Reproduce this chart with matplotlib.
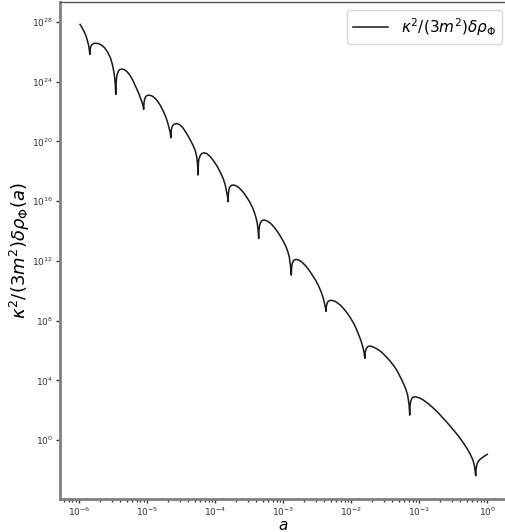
import numpy as np
from matplotlib import pyplot as plt

# log10 of the scale factor a, one row per oscillation (descent into the node, then rise)
log_a = [
    -5.985, -5.96, -5.93, -5.90, -5.88, -5.86, -5.85, -5.84,
    -5.836, -5.825, -5.81, -5.79, -5.76, -5.74,
    -5.70, -5.66, -5.62, -5.58, -5.54, -5.51, -5.49, -5.475, -5.466, -5.46,
    -5.455, -5.45, -5.44, -5.42, -5.40, -5.37,
    -5.33, -5.29, -5.25, -5.21, -5.17, -5.13, -5.10, -5.08, -5.06, -5.05,
    -5.045, -5.035, -5.02, -5.00, -4.97,
    -4.93, -4.89, -4.85, -4.81, -4.77, -4.73, -4.70, -4.68, -4.66, -4.65,
    -4.645, -4.635, -4.62, -4.60, -4.56,
    -4.52, -4.48, -4.44, -4.40, -4.36, -4.32, -4.29, -4.27, -4.258, -4.25,
    -4.246, -4.24, -4.22, -4.20, -4.16,
    -4.12, -4.08, -4.04, -4.00, -3.96, -3.92, -3.88, -3.85, -3.83, -3.815, -3.81,
    -3.805, -3.795, -3.78, -3.76, -3.73,
    -3.69, -3.65, -3.61, -3.57, -3.53, -3.49, -3.45, -3.42, -3.40, -3.38, -3.367, -3.36,
    -3.355, -3.345, -3.33, -3.31, -3.28,
    -3.24, -3.20, -3.16, -3.12, -3.08, -3.04, -3.00, -2.96, -2.93, -2.91, -2.893, -2.88,
    -2.875, -2.865, -2.85, -2.83, -2.81,
    -2.76, -2.72, -2.68, -2.64, -2.60, -2.56, -2.52, -2.48, -2.44, -2.41, -2.39, -2.375, -2.37,
    -2.365, -2.355, -2.34, -2.32, -2.29,
    -2.24, -2.20, -2.16, -2.12, -2.08, -2.04, -2.00, -1.96, -1.92, -1.89, -1.86, -1.83, -1.81, -1.80,
    -1.795, -1.785, -1.77, -1.75, -1.72,
    -1.67, -1.62, -1.57, -1.52, -1.47, -1.42, -1.37, -1.32, -1.28, -1.24, -1.20, -1.17, -1.15, -1.14,
    -1.135, -1.125, -1.11, -1.09, -1.06,
    -1.00, -0.94, -0.88, -0.82, -0.76, -0.70, -0.64, -0.58, -0.52, -0.46, -0.40, -0.35, -0.30,
    -0.25, -0.21, -0.185, -0.17,
    -0.163, -0.15, -0.13, -0.10, -0.05, 0.0,
]
# log10 of kappa^2/(3m^2) delta rho_Phi at those points
log_rho = [
    27.84, 27.65, 27.40, 27.10, 26.80, 26.45, 26.15, 25.83,
    26.20, 26.38, 26.49, 26.55, 26.58, 26.57,
    26.53, 26.42, 26.25, 25.98, 25.62, 25.15, 24.70, 24.25, 23.70, 23.15,
    23.85, 24.20, 24.50, 24.72, 24.82, 24.85,
    24.80, 24.65, 24.42, 24.10, 23.70, 23.30, 22.95, 22.70, 22.40, 22.15,
    22.60, 22.85, 23.00, 23.08, 23.10,
    23.05, 22.92, 22.72, 22.45, 22.10, 21.70, 21.30, 20.95, 20.60, 20.25,
    20.75, 20.95, 21.08, 21.16, 21.20,
    21.12, 20.95, 20.68, 20.38, 20.05, 19.70, 19.35, 18.95, 18.45, 17.75,
    18.50, 18.80, 19.05, 19.18, 19.24,
    19.18, 19.02, 18.80, 18.55, 18.25, 17.90, 17.50, 17.05, 16.60, 16.25, 15.96,
    16.50, 16.80, 16.98, 17.06, 17.08,
    17.03, 16.90, 16.72, 16.50, 16.23, 15.93, 15.57, 15.20, 14.90, 14.50, 14.00, 13.50,
    14.10, 14.40, 14.60, 14.70, 14.74,
    14.68, 14.57, 14.40, 14.18, 13.93, 13.65, 13.33, 12.97, 12.60, 12.25, 11.70, 11.05,
    11.60, 11.85, 12.00, 12.08, 12.10,
    12.03, 11.90, 11.72, 11.50, 11.25, 10.97, 10.68, 10.33, 9.90, 9.50, 9.10, 8.80, 8.62,
    8.95, 9.15, 9.28, 9.34, 9.36,
    9.30, 9.18, 9.04, 8.85, 8.63, 8.38, 8.10, 7.78, 7.40, 7.05, 6.70, 6.25, 5.85, 5.47,
    5.85, 6.05, 6.18, 6.27, 6.30,
    6.22, 6.10, 5.95, 5.74, 5.50, 5.24, 4.95, 4.60, 4.24, 3.87, 3.45, 3.00, 2.40, 1.67,
    2.30, 2.60, 2.78, 2.87, 2.90,
    2.83, 2.68, 2.48, 2.25, 2.00, 1.72, 1.42, 1.12, 0.80, 0.47, 0.12, -0.20, -0.55,
    -0.95, -1.35, -1.80, -2.39,
    -1.90, -1.60, -1.42, -1.27, -1.10, -0.96,
]

x_ticks = [1e-6, 1e-5, 1e-4, 1e-3, 1e-2, 1e-1, 1e0]
y_ticks = [1e0, 1e4, 1e8, 1e12, 1e16, 1e20, 1e24, 1e28]

a = 10 ** np.array(log_a)
rho = 10 ** np.array(log_rho)

fig = plt.figure(figsize=(5.06, 5.32), dpi=100)
ax = fig.add_axes([60 / 506, 33 / 532, 447 / 506, 497 / 532])
ax.plot(a, rho, color='#1a1a1a', lw=1.1, label=r'$\kappa^2/(3m^2)\delta\rho_\Phi$')
ax.set_xscale('log')
ax.set_yscale('log')
ax.set_xlim(10 ** -6.28, 10 ** 0.29)
ax.set_ylim(10 ** -3.95, 10 ** 29.34)
ax.set_xticks(x_ticks)
ax.set_yticks(y_ticks)
ax.yaxis.set_minor_locator(plt.NullLocator())

for side in ['left', 'bottom']:
    ax.spines[side].set_color('#808080')
    ax.spines[side].set_linewidth(2)
for side in ['top', 'right']:
    ax.spines[side].set_color('#555555')
    ax.spines[side].set_linewidth(1)
ax.tick_params(which='both', labelsize=6.5, colors='#333333', length=3, width=1, pad=2)
ax.tick_params(which='minor', length=2)

ax.set_xlabel(r'$a$', fontsize=11, labelpad=0)
ax.set_ylabel(r'$\kappa^2/(3m^2)\delta\rho_\Phi(a)$', fontsize=13, labelpad=0)
ax.legend(loc='upper right', bbox_to_anchor=(0.989, 0.984), borderaxespad=0,
          fontsize=11, handlelength=2.3)

fig.savefig('out.png', dpi=100)
